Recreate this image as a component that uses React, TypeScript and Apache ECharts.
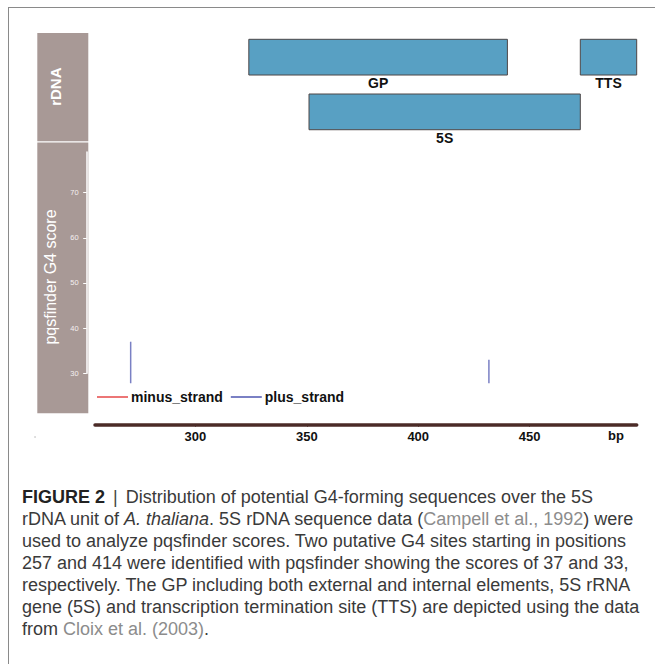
import React, { useEffect, useRef } from "react";
import * as echarts from "echarts";

// ---- data ----
const featureNames = ["GP", "TTS", "5S"];
const featureStarts = [324, 472.7, 351];
const featureEnds = [440, 498, 472.7];
const featureRows = [0, 0, 1];

const plusPositions = [271, 431.7];
const plusScores = [37, 33];
const minusPositions: number[] = [];
const minusScores: number[] = [];

const bpTicks = [300, 350, 400, 450];
const scoreTicks = [30, 40, 50, 60, 70];

const X_MIN = 255;
const X_MAX = 498;
const SCORE_MIN = 27.8;
const SCORE_MAX = 79;

const FONT = "Liberation Sans, Arial, sans-serif";
const STRIP = "#a89996";
const BOX_FILL = "#58a0c3";
const BOX_STROKE = "#4e4646";
const RED = "#ec7676";
const BLUE = "#7a80c4";
const AXIS_BROWN = "#4b2b27";

export default function App() {
  const ref = useRef<HTMLDivElement>(null);

  useEffect(() => {
    if (!ref.current) return;
    const chart = echarts.init(ref.current, undefined, { renderer: "svg" });

    const featureData = featureNames.map((n, i) => [
      featureStarts[i],
      featureEnds[i],
      featureRows[i],
      n,
    ]);
    const plusData = plusPositions.map((p, i) => [p, plusScores[i]]);
    const minusData = minusPositions.map((p, i) => [p, minusScores[i]]);

    const gridW = 541.7;

    const option: any = {
      animation: false,
      grid: [
        { left: 95, width: gridW, top: 39.3, height: 109.4 },
        { left: 95, width: gridW, top: 152.06, height: 231.2 },
        { left: 86.7, width: 1, top: 152.06, height: 221.24 },
        { left: 95, width: gridW, top: 400, height: 24.7 },
      ],
      xAxis: [
        { gridIndex: 0, type: "value", min: X_MIN, max: X_MAX, show: false },
        { gridIndex: 1, type: "value", min: X_MIN, max: X_MAX, show: false },
        { gridIndex: 2, type: "value", min: 0, max: 1, show: false },
        {
          gridIndex: 3,
          type: "value",
          min: X_MIN,
          max: X_MAX,
          position: "bottom",
          splitLine: { show: false },
          axisLine: {
            show: true,
            lineStyle: { color: AXIS_BROWN, width: 3.5, cap: "round" },
          },
          axisTick: {
            show: true,
            customValues: bpTicks,
            length: 2,
            lineStyle: { color: AXIS_BROWN, width: 1 },
          },
          axisLabel: {
            customValues: bpTicks,
            margin: 5,
            color: "#111",
            fontWeight: "bold",
            fontSize: 13,
            fontFamily: FONT,
          },
        },
      ],
      yAxis: [
        { gridIndex: 0, type: "value", min: 0, max: 2, inverse: true, show: false },
        { gridIndex: 1, type: "value", min: SCORE_MIN, max: SCORE_MAX, show: false },
        {
          gridIndex: 2,
          type: "value",
          min: 30,
          max: SCORE_MAX,
          position: "left",
          splitLine: { show: false },
          axisLine: { show: true, lineStyle: { color: "#ffffff", width: 1.5 } },
          axisTick: {
            show: true,
            customValues: scoreTicks,
            length: 3.5,
            lineStyle: { color: "#ffffff", width: 1 },
          },
          axisLabel: {
            customValues: scoreTicks,
            margin: 8,
            color: "#f4f0f0",
            fontSize: 7.5,
            fontFamily: FONT,
          },
        },
        { gridIndex: 3, type: "value", min: 0, max: 1, show: false },
      ],
      legend: {
        data: ["minus_strand", "plus_strand"],
        left: 97,
        top: 390,
        icon: "rect",
        itemWidth: 31,
        itemHeight: 2,
        itemGap: 8,
        padding: 0,
        textStyle: {
          color: "#111",
          fontWeight: "bold",
          fontSize: 14,
          fontFamily: FONT,
          padding: [0, 0, 0, -2],
        },
      },
      graphic: [
        {
          type: "rect",
          z: -10,
          shape: { x: 37.3, y: 33, width: 51, height: 108.3 },
          style: { fill: STRIP },
        },
        {
          type: "rect",
          z: -10,
          shape: { x: 37.3, y: 142.6, width: 51, height: 270.7 },
          style: { fill: STRIP },
        },
        {
          type: "text",
          x: 55.5,
          y: 86.7,
          rotation: Math.PI / 2,
          style: {
            text: "rDNA",
            fill: "#ffffff",
            font: `bold 15px ${FONT}`,
            align: "center",
            verticalAlign: "middle",
          },
        },
        {
          type: "text",
          x: 50,
          y: 277,
          rotation: Math.PI / 2,
          style: {
            text: "pqsfinder G4 score",
            fill: "#ffffff",
            font: `16px ${FONT}`,
            align: "center",
            verticalAlign: "middle",
          },
        },
        {
          type: "text",
          x: 616,
          y: 435,
          style: {
            text: "bp",
            fill: "#111",
            font: `bold 13px ${FONT}`,
            align: "center",
            verticalAlign: "middle",
          },
        },
        {
          type: "circle",
          shape: { cx: 35, cy: 437, r: 0.8 },
          style: { fill: "#cccccc" },
        },
      ],
      series: [
        {
          type: "custom",
          name: "features",
          xAxisIndex: 0,
          yAxisIndex: 0,
          data: featureData,
          encode: { x: [0, 1], y: 2 },
          renderItem: (params: any, api: any) => {
            const s = api.value(0);
            const e = api.value(1);
            const r = api.value(2);
            const name = featureNames[params.dataIndex];
            const p0 = api.coord([s, r]);
            const p1 = api.coord([e, r]);
            const h = api.size([0, 0.653])[1];
            return {
              type: "group",
              children: [
                {
                  type: "rect",
                  shape: { x: p0[0], y: p0[1], width: p1[0] - p0[0], height: h },
                  style: { fill: BOX_FILL, stroke: BOX_STROKE, lineWidth: 1 },
                },
                {
                  type: "text",
                  x: (p0[0] + p1[0]) / 2,
                  y: p0[1] + h + 1,
                  style: {
                    text: name,
                    fill: "#111",
                    font: `bold 14px ${FONT}`,
                    align: "center",
                    verticalAlign: "top",
                  },
                },
              ],
            };
          },
        },
        {
          type: "custom",
          name: "minus_strand",
          xAxisIndex: 1,
          yAxisIndex: 1,
          itemStyle: { color: RED },
          data: minusData,
          renderItem: (params: any, api: any) => {
            const a = api.coord([api.value(0), SCORE_MIN]);
            const b = api.coord([api.value(0), api.value(1)]);
            return {
              type: "line",
              shape: { x1: a[0], y1: a[1], x2: b[0], y2: b[1] },
              style: { stroke: RED, lineWidth: 1.5 },
            };
          },
        },
        {
          type: "custom",
          name: "plus_strand",
          xAxisIndex: 1,
          yAxisIndex: 1,
          itemStyle: { color: BLUE },
          data: plusData,
          renderItem: (params: any, api: any) => {
            const a = api.coord([api.value(0), SCORE_MIN]);
            const b = api.coord([api.value(0), api.value(1)]);
            return {
              type: "line",
              shape: { x1: a[0], y1: a[1], x2: b[0], y2: b[1] },
              style: { stroke: BLUE, lineWidth: 1.5 },
            };
          },
        },
      ],
    };

    chart.setOption(option);
    return () => chart.dispose();
  }, []);

  const grayLink = { color: "#8c8c8c" };

  return (
    <div
      style={{
        position: "absolute",
        left: 0,
        top: 0,
        width: 655,
        height: 664,
        background: "#ffffff",
        overflow: "hidden",
      }}
    >
      <div
        style={{
          position: "absolute",
          left: 8,
          top: 6.5,
          width: 700,
          height: 700,
          borderTop: "1.5px solid #8a8a8a",
          borderLeft: "1.5px solid #8a8a8a",
        }}
      />
      <div
        ref={ref}
        style={{ position: "absolute", left: 0, top: 0, width: 655, height: 460 }}
      />
      <div
        style={{
          position: "absolute",
          left: 22,
          top: 486,
          width: 640,
          fontFamily: FONT,
          fontSize: 18,
          lineHeight: "22px",
          color: "#3a3a3a",
          whiteSpace: "nowrap",
        }}
      >
        <span style={{ fontWeight: "bold", color: "#222" }}>FIGURE 2</span>
        <span style={{ color: "#444", margin: "0 8px" }}>|</span>
        Distribution of potential G4-forming sequences over the 5S
        <br />
        rDNA unit of <i>A. thaliana</i>. 5S rDNA sequence data (
        <span style={grayLink}>Campell et al., 1992</span>) were
        <br />
        used to analyze pqsfinder scores. Two putative G4 sites starting in positions
        <br />
        257 and 414 were identified with pqsfinder showing the scores of 37 and 33,
        <br />
        respectively. The GP including both external and internal elements, 5S rRNA
        <br />
        gene (5S) and transcription termination site (TTS) are depicted using the data
        <br />
        from <span style={grayLink}>Cloix et al. (2003)</span>.
      </div>
    </div>
  );
}
